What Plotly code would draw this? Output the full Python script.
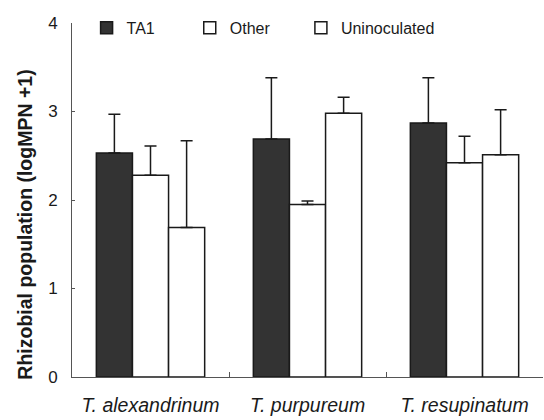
import plotly.graph_objects as go

categories = ["T. alexandrinum", "T. purpureum", "T. resupinatum"]
series_names = ["TA1", "Other", "Uninoculated"]
ta1_values = [2.53, 2.69, 2.87]
ta1_err = [0.44, 0.69, 0.51]
other_values = [2.28, 1.95, 2.42]
other_err = [0.33, 0.04, 0.30]
uninoc_values = [1.69, 2.98, 2.51]
uninoc_err = [0.98, 0.18, 0.51]
y_ticks = [0, 1, 2, 3, 4]

FONT = "Liberation Sans, Arial, sans-serif"
fills = ["#333333", "#ffffff", "#ffffff"]
values = [ta1_values, other_values, uninoc_values]
errors = [ta1_err, other_err, uninoc_err]
legend_ids = ["legend", "legend2", "legend3"]
legend_x = [0.031, 0.250, 0.486]

fig = go.Figure()
for name, vals, errs, fill, lg in zip(series_names, values, errors, fills, legend_ids):
    fig.add_trace(go.Bar(
        name=name, x=categories, y=vals, legend=lg,
        marker=dict(color=fill, line=dict(color="#1a1a1a", width=1.5)),
        error_y=dict(type="data", symmetric=False, array=errs,
                     arrayminus=[0] * len(errs), color="#1a1a1a",
                     thickness=1.5, width=6),
    ))

legend_common = dict(orientation="h", y=0.986, xanchor="left", yanchor="middle",
                     font=dict(size=16, family=FONT), bgcolor="rgba(0,0,0,0)")

fig.update_layout(
    width=544, height=420,
    margin=dict(l=72, r=1, t=23, b=43),
    plot_bgcolor="white", paper_bgcolor="white",
    barmode="group", bargap=0.31, bargroupgap=0,
    font=dict(family=FONT, color="#1a1a1a"),
    showlegend=True,
    legend=dict(x=legend_x[0], **legend_common),
    legend2=dict(x=legend_x[1], **legend_common),
    legend3=dict(x=legend_x[2], **legend_common),
    xaxis=dict(showline=True, linecolor="#555555", linewidth=1,
               ticks="inside", ticklen=5, tickcolor="#555555",
               tickson="boundaries",
               tickfont=dict(size=19.5, family=FONT, style="italic"),
               ticklabelstandoff=11),
    yaxis=dict(range=[0, 4], tickvals=y_ticks, showline=True,
               linecolor="#555555", linewidth=1, ticks="inside",
               ticklen=3, tickcolor="#555555", showgrid=False,
               zeroline=False, tickfont=dict(size=17, family=FONT),
               ticklabelstandoff=10),
    annotations=[dict(text="<b>Rhizobial population (logMPN +1)</b>",
                      textangle=-90, xref="paper", yref="paper",
                      x=-0.1, y=0.43, xanchor="center", yanchor="middle",
                      showarrow=False, font=dict(size=19.5, family=FONT))],
)

fig.write_html("out.html", config={"displayModeBar": False},
               post_script="document.body.style.margin='0';document.body.style.overflow='hidden';")
